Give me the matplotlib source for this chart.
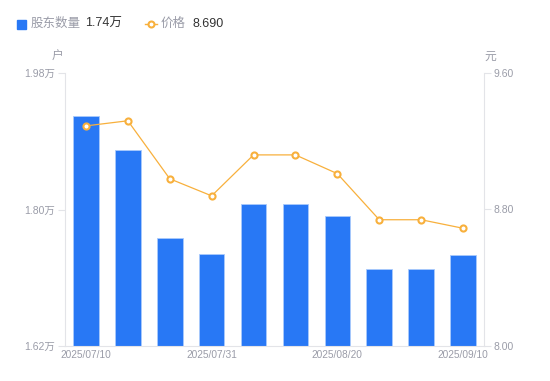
import matplotlib.pyplot as plt
from matplotlib.patches import Rectangle
from matplotlib.lines import Line2D

plt.rcParams['font.family'] = ['Liberation Sans', 'Noto Sans CJK SC']

dates = ['2025/07/10', '2025/07/18', '2025/07/25', '2025/07/31', '2025/08/08',
         '2025/08/15', '2025/08/20', '2025/08/29', '2025/08/31', '2025/09/10']
holders = [1.923, 1.878, 1.762, 1.741, 1.807, 1.807, 1.791, 1.722, 1.722, 1.740]
price = [9.29, 9.32, 8.98, 8.88, 9.12, 9.12, 9.01, 8.74, 8.74, 8.69]
left_ticks = [1.62, 1.80, 1.98]
right_ticks = [8.00, 8.80, 9.60]
label_idx = [0, 3, 6, 9]

BLUE = '#2878f5'
ORANGE = '#f8b03c'
GRAY = '#9a9ca8'
AXC = '#e3e4e8'

fig = plt.figure(figsize=(5.5, 3.81), dpi=100)
ax = fig.add_axes([65 / 550, 1 - 346 / 381, 419 / 550, 273 / 381])
ax2 = ax.twinx()

x = list(range(len(dates)))
ax.bar(x, holders, width=0.61, color=BLUE, edgecolor='#a9cafc', linewidth=0.6, zorder=2)
ax.set_ylim(left_ticks[0], left_ticks[-1])
ax.set_xlim(-0.5, len(dates) - 0.5)
ax.set_yticks(left_ticks)
ax.set_yticklabels([f'{v:.2f}万' for v in left_ticks])
ax.set_xticks(label_idx)
ax.set_xticklabels([dates[i] for i in label_idx])

ax2.plot(x, price, color=ORANGE, lw=0.9, marker='o', ms=4.4, mfc='white',
         mec=ORANGE, mew=1.5, zorder=3)
ax2.set_ylim(right_ticks[0], right_ticks[-1])
ax2.set_yticks(right_ticks)
ax2.set_yticklabels([f'{v:.2f}' for v in right_ticks])

for a in (ax, ax2):
    for s in a.spines.values():
        s.set_visible(False)
ax.spines['left'].set_visible(True)
ax.spines['left'].set_color(AXC)
ax.spines['bottom'].set_visible(True)
ax.spines['bottom'].set_color(AXC)
ax2.spines['right'].set_visible(True)
ax2.spines['right'].set_color(AXC)

ax.tick_params(axis='y', colors=AXC, labelcolor=GRAY, labelsize=7.5, length=5, pad=2)
ax.tick_params(axis='x', length=0, labelcolor=GRAY, labelsize=7.3, pad=3)
ax2.tick_params(axis='y', colors=AXC, labelcolor=GRAY, labelsize=7.5, length=5, pad=2)

fig.text(58 / 550, 1 - 57 / 381, '户', color=GRAY, fontsize=8.5, ha='center', va='center')
fig.text(490 / 550, 1 - 57 / 381, '元', color=GRAY, fontsize=8.5, ha='center', va='center')

# legend
ly = 1 - 24 / 381
fig.patches.append(Rectangle((17 / 550, 1 - 29 / 381), 9 / 550, 9 / 381,
                             transform=fig.transFigure, color=BLUE, figure=fig))
fig.text(31 / 550, ly, '股东数量', color=GRAY, fontsize=9, va='center')
fig.text(85 / 550, ly, f'{holders[-1]:.2f}万', color='#333333', fontsize=9, va='center')
fig.lines.append(Line2D([145 / 550, 157 / 550], [ly, ly], transform=fig.transFigure,
                        color=ORANGE, lw=1, figure=fig))
fig.lines.append(Line2D([151 / 550], [ly], transform=fig.transFigure, color=ORANGE,
                        marker='o', ms=4.3, mfc='white', mec=ORANGE, mew=1.5, figure=fig))
fig.text(161 / 550, ly, '价格', color=GRAY, fontsize=9, va='center')
fig.text(192 / 550, ly, f'{price[-1]:.3f}', color='#333333', fontsize=9, va='center')

fig.savefig('out.png', dpi=100)
